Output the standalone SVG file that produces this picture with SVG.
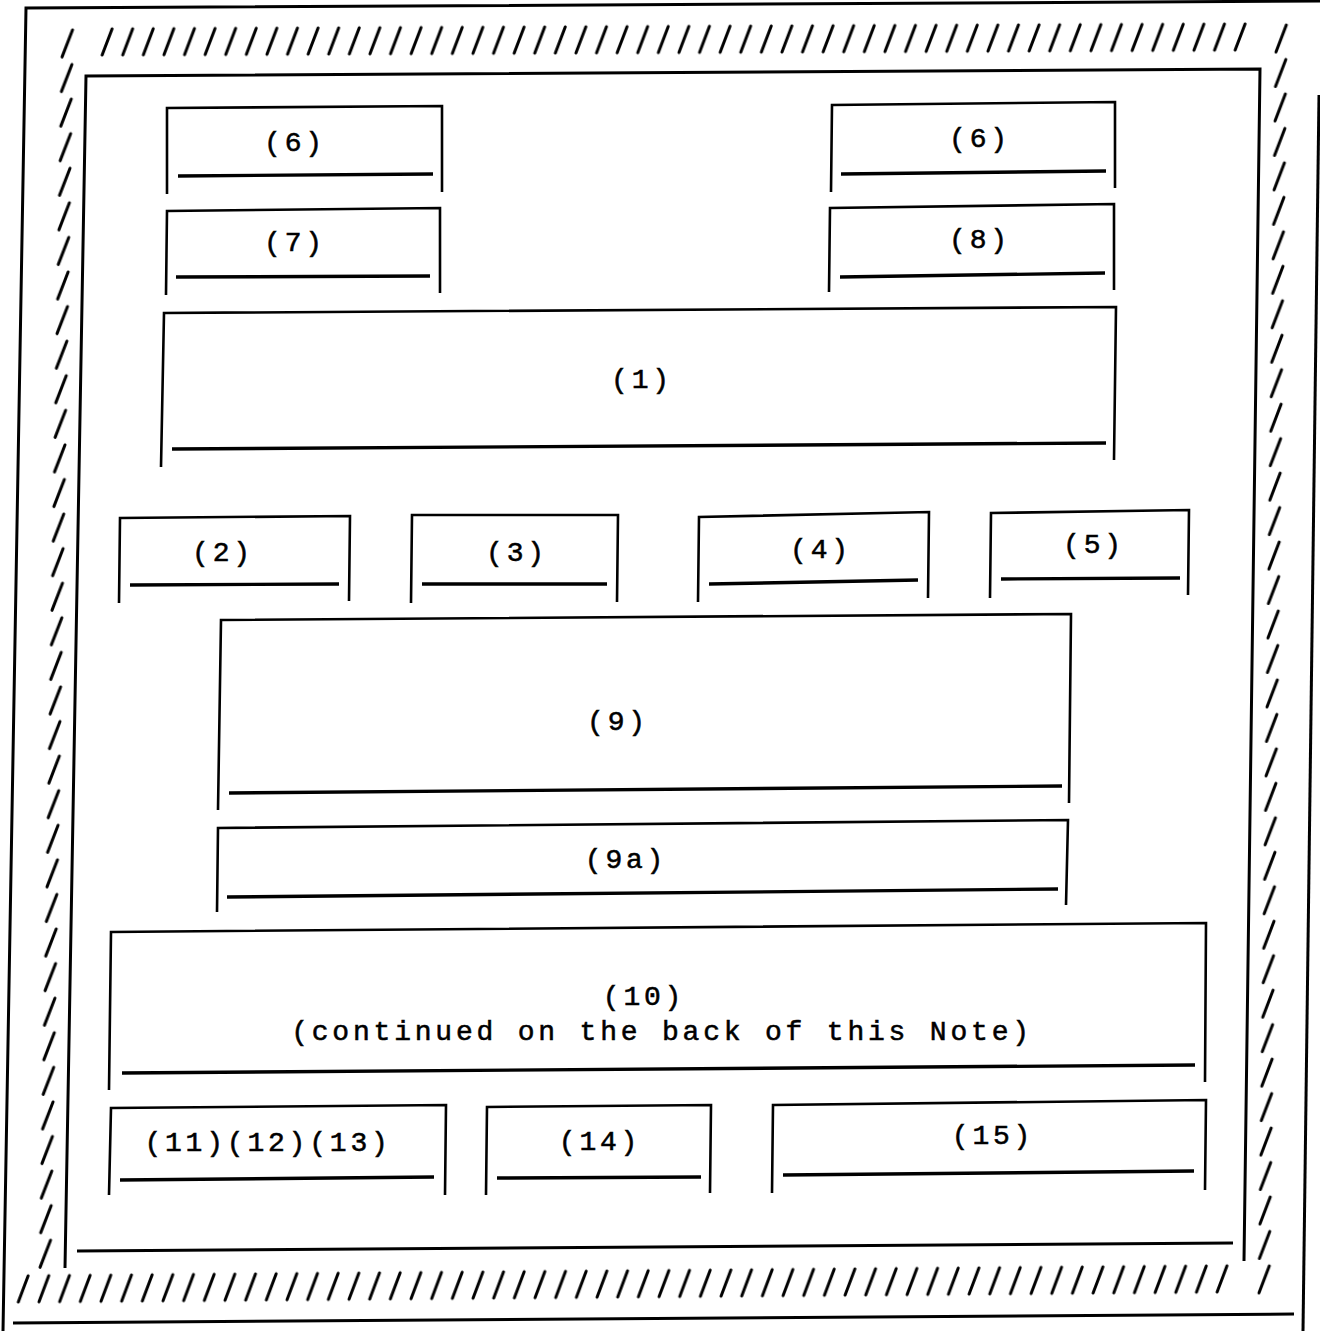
<svg xmlns="http://www.w3.org/2000/svg" width="1320" height="1331" viewBox="0 0 1320 1331">
<style>
.ln{fill:none;stroke:#000;stroke-width:2.6;stroke-linejoin:miter}
.ul{fill:none;stroke:#000;stroke-width:3.4}
.fr{fill:none;stroke:#000;stroke-width:3}
.sl{stroke:#000;stroke-width:3;stroke-linecap:round}
.t{font-family:"Liberation Mono","DejaVu Sans Mono",monospace;font-size:28px;letter-spacing:3.8px;text-anchor:middle;fill:#000;stroke:#000;stroke-width:0.55}
</style>
<defs>
<pattern id="pt" patternUnits="userSpaceOnUse" width="20.6" height="60"><line class="sl" x1="2" y1="40" x2="12" y2="14"/></pattern>
<pattern id="pb" patternUnits="userSpaceOnUse" width="20.67" height="60"><line class="sl" x1="2" y1="40" x2="12" y2="14"/></pattern>
<pattern id="pl" patternUnits="userSpaceOnUse" width="60" height="34.58"><line class="sl" x1="20" y1="31" x2="30" y2="4"/></pattern>
<pattern id="pr" patternUnits="userSpaceOnUse" width="60" height="34.47"><line class="sl" x1="20" y1="31" x2="30" y2="4"/></pattern>
</defs>
<rect width="1320" height="1331" fill="#fff"/>
<g id="outer-frame">
<path class="fr" d="M3,1331 L26,8 L1320,1"/>
<path class="fr" d="M1319,95 L1303,1331"/>
<path class="fr" d="M13,1323 L1294,1314"/>
</g>
<g id="hatching">
<g transform="translate(100,15) rotate(-0.25)"><rect x="-4" y="0" width="1154" height="60" fill="url(#pt)"/></g>
<g transform="translate(16,1262) rotate(-0.478)"><rect x="-4" y="0" width="1219" height="60" fill="url(#pb)"/></g>
<g transform="translate(42.6,26) skewX(-1.04)"><rect x="0" y="0" width="60" height="1244.9" fill="url(#pl)"/></g>
<g transform="translate(1256.4,21) skewX(-0.785)"><rect x="0" y="0" width="60" height="1275.4" fill="url(#pr)"/></g>
</g>
<g id="inner-frame">
<path class="fr" d="M65,1268 L86,76 L1260,69 L1244,1261"/>
<path class="fr" d="M77,1251 L1233,1243"/>
</g>
<g id="box-6-left">
<path class="ln" d="M167,194 L167,108 L442,106 L442,192"/>
<path class="ul" d="M178,176 L433,174"/>
<text class="t" x="295" y="151">(6)</text>
</g>
<g id="box-6-right">
<path class="ln" d="M831,192 L832,105 L1115,102 L1115,188"/>
<path class="ul" d="M841,174 L1106,171"/>
<text class="t" x="980" y="147">(6)</text>
</g>
<g id="box-7">
<path class="ln" d="M166,295 L167,211 L440,208 L440,293"/>
<path class="ul" d="M176,277 L430,276"/>
<text class="t" x="295" y="251">(7)</text>
</g>
<g id="box-8">
<path class="ln" d="M829,292 L830,208 L1114,204 L1114,290"/>
<path class="ul" d="M840,277 L1105,273"/>
<text class="t" x="980" y="248">(8)</text>
</g>
<g id="box-1">
<path class="ln" d="M161,467 L164,313 L1116,307 L1114,460"/>
<path class="ul" d="M172,449 L1106,443"/>
<text class="t" x="642" y="388">(1)</text>
</g>
<g id="box-2">
<path class="ln" d="M119,603 L120,518 L350,516 L349,601"/>
<path class="ul" d="M130,585 L339,584"/>
<text class="t" x="223" y="561">(2)</text>
</g>
<g id="box-3">
<path class="ln" d="M411,603 L412,515 L618,515 L617,602"/>
<path class="ul" d="M422,584 L607,584"/>
<text class="t" x="517" y="561">(3)</text>
</g>
<g id="box-4">
<path class="ln" d="M698,602 L699,517 L929,512 L928,598"/>
<path class="ul" d="M709,584 L918,580"/>
<text class="t" x="821" y="558">(4)</text>
</g>
<g id="box-5">
<path class="ln" d="M990,598 L991,513 L1189,510 L1188,595"/>
<path class="ul" d="M1001,579 L1180,578"/>
<text class="t" x="1094" y="553">(5)</text>
</g>
<g id="box-9">
<path class="ln" d="M218,810 L221,620 L1071,614 L1069,803"/>
<path class="ul" d="M229,793 L1062,786"/>
<text class="t" x="618" y="730">(9)</text>
</g>
<g id="box-9a">
<path class="ln" d="M217,912 L218,828 L1068,820 L1066,905"/>
<path class="ul" d="M227,897 L1058,889"/>
<text class="t" x="626" y="868">(9a)</text>
</g>
<g id="box-10">
<path class="ln" d="M109,1090 L111,932 L1206,923 L1205,1082"/>
<path class="ul" d="M122,1073 L1195,1065"/>
<text class="t" x="644" y="1005">(10)</text>
<text class="t" x="662" y="1040">(continued on the back of this Note)</text>
</g>
<g id="box-11-12-13">
<path class="ln" d="M109,1195 L111,1108 L446,1105 L445,1195"/>
<path class="ul" d="M120,1180 L434,1177"/>
<text class="t" x="268" y="1151">(11)(12)(13)</text>
</g>
<g id="box-14">
<path class="ln" d="M486,1195 L487,1107 L711,1105 L710,1193"/>
<path class="ul" d="M497,1178 L701,1177"/>
<text class="t" x="600" y="1150">(14)</text>
</g>
<g id="box-15">
<path class="ln" d="M772,1193 L773,1105 L1206,1100 L1205,1190"/>
<path class="ul" d="M783,1175 L1194,1171"/>
<text class="t" x="993" y="1144">(15)</text>
</g>
</svg>
